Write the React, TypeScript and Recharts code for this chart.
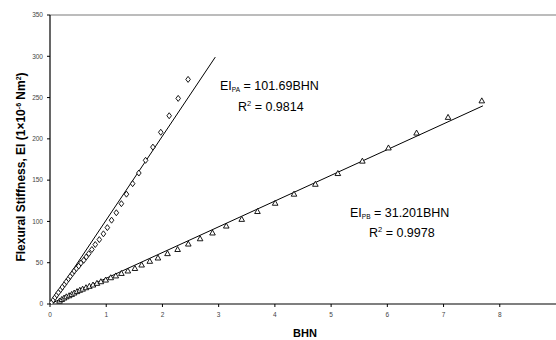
import React from 'react';
import { ScatterChart, Scatter, XAxis, YAxis, ReferenceLine } from 'recharts';

const paBhn = [0.03, 0.06, 0.09, 0.12, 0.15, 0.19, 0.22, 0.26, 0.29, 0.33, 0.36, 0.40, 0.43, 0.47, 0.51, 0.55, 0.60, 0.645, 0.69, 0.745, 0.805, 0.877, 0.95, 1.02, 1.095, 1.18, 1.27, 1.36, 1.47, 1.58, 1.70, 1.83, 1.97, 2.12, 2.28, 2.456];
const paEi = [2, 5, 8, 11, 14, 17.5, 20.5, 24, 27, 30.5, 33.5, 37, 40, 43, 46, 49.6, 53, 57, 61, 66, 72, 78, 85, 92.5, 101.5, 110.5, 121.5, 133, 145.7, 158.6, 174, 190, 208, 228, 249, 272];

const pbBhn = [0.17, 0.21, 0.25, 0.29, 0.34, 0.385, 0.43, 0.48, 0.53, 0.58, 0.64, 0.70, 0.765, 0.835, 0.905, 0.99, 1.08, 1.17, 1.27, 1.385, 1.51, 1.63, 1.775, 1.92, 2.09, 2.27, 2.46, 2.67, 2.89, 3.135, 3.41, 3.69, 4.005, 4.34, 4.72, 5.12, 5.556, 6.02, 6.52, 7.08, 7.68];
const pbEi = [3.5, 5.5, 7.2, 8.7, 10, 11.6, 13.3, 15, 16.6, 18, 19.7, 21.4, 23, 25, 27, 29, 31.8, 34, 37, 40, 43, 47.2, 51.7, 55.7, 61, 66, 72.6, 79, 86, 94.4, 102.5, 112, 122, 133, 145, 158, 173, 189, 207, 226, 246];

const paTrendBhn = [0, 2.94];
const paTrendEi = [0, 299];
const pbTrendBhn = [0, 7.7];
const pbTrendEi = [0, 240];

const xTicks = [0, 1, 2, 3, 4, 5, 6, 7, 8];
const yTicks = [0, 50, 100, 150, 200, 250, 300, 350];

const toPoints = (xs: number[], ys: number[]) => xs.map((x, i) => ({ bhn: x, ei: ys[i] }));

const paData = toPoints(paBhn, paEi);
const pbData = toPoints(pbBhn, pbEi);
const paTrend = toPoints(paTrendBhn, paTrendEi);
const pbTrend = toPoints(pbTrendBhn, pbTrendEi);

const FONT = '"Liberation Sans", Arial, sans-serif';

const Diamond = (props: any) => {
  const { cx, cy } = props;
  if (cx == null || cy == null) return <g />;
  return (
    <path
      d={`M${cx},${cy - 3}L${cx + 2.3},${cy}L${cx},${cy + 3}L${cx - 2.3},${cy}Z`}
      fill="#fff"
      stroke="#000"
      strokeWidth={0.9}
    />
  );
};

const Triangle = (props: any) => {
  const { cx, cy } = props;
  if (cx == null || cy == null) return <g />;
  return (
    <path
      d={`M${cx},${cy - 3}L${cx + 2.8},${cy + 2}L${cx - 2.8},${cy + 2}Z`}
      fill="#fff"
      stroke="#000"
      strokeWidth={0.9}
    />
  );
};

const NoDot = () => <g />;

export default function App() {
  const tickStyle = { fontSize: 6.5, fill: '#444', fontFamily: FONT };
  return (
    <div style={{ position: 'absolute', left: 0, top: 0, width: 556, height: 340, background: '#fff' }}>
      <ScatterChart width={556} height={340} margin={{ top: 15, right: 0, bottom: 0, left: 0 }}>
        <XAxis
          type="number"
          dataKey="bhn"
          domain={[0, 9]}
          ticks={xTicks}
          tickSize={3}
          tickMargin={5}
          height={36}
          axisLine={{ stroke: '#000', strokeWidth: 1.2 }}
          tickLine={{ stroke: '#000' }}
          tick={tickStyle}
          allowDataOverflow
        />
        <YAxis
          type="number"
          dataKey="ei"
          domain={[0, 350]}
          ticks={yTicks}
          tickSize={3}
          tickMargin={4}
          width={50}
          axisLine={{ stroke: '#000', strokeWidth: 1.2 }}
          tickLine={{ stroke: '#000' }}
          tick={tickStyle}
          allowDataOverflow
        />
        <ReferenceLine y={350} stroke="#a6a6a6" strokeWidth={1.5} />
        <Scatter data={paTrend} line={{ stroke: '#000', strokeWidth: 1 }} shape={NoDot} isAnimationActive={false} />
        <Scatter data={pbTrend} line={{ stroke: '#000', strokeWidth: 1 }} shape={NoDot} isAnimationActive={false} />
        <Scatter data={paData} shape={Diamond} isAnimationActive={false} />
        <Scatter data={pbData} shape={Triangle} isAnimationActive={false} />
      </ScatterChart>
      <svg
        width={556}
        height={340}
        style={{ position: 'absolute', left: 0, top: 0, pointerEvents: 'none' }}
        fontFamily={FONT}
      >
        <text transform="translate(24.5,167) rotate(-90)" textAnchor="middle" fontWeight="bold" fontSize={12} fill="#000">
          Flexural Stiffness, EI (1×10<tspan dy={-4} fontSize={7}>-6</tspan>
          <tspan dy={4}> Nm</tspan>
          <tspan dy={-4} fontSize={7}>2</tspan>
          <tspan dy={4}>)</tspan>
        </text>
        <text x={305} y={337} textAnchor="middle" fontWeight="bold" fontSize={11} fill="#000">BHN</text>

        <text x={220} y={90} fontSize={12.5} fill="#000">
          EI<tspan dy={2} fontSize={6.5}>PA</tspan>
          <tspan dy={-2}> = 101.69BHN</tspan>
        </text>
        <text x={238} y={110.7} fontSize={12.5} fill="#000">
          R<tspan dy={-5} fontSize={7.5}>2</tspan>
          <tspan dy={5}> = 0.9814</tspan>
        </text>

        <text x={350} y={217} fontSize={12.5} fill="#000">
          EI<tspan dy={2} fontSize={6.5}>PB</tspan>
          <tspan dy={-2}> = 31.201BHN</tspan>
        </text>
        <text x={369} y={236.5} fontSize={12.5} fill="#000">
          R<tspan dy={-5} fontSize={7.5}>2</tspan>
          <tspan dy={5}> = 0.9978</tspan>
        </text>
      </svg>
    </div>
  );
}
